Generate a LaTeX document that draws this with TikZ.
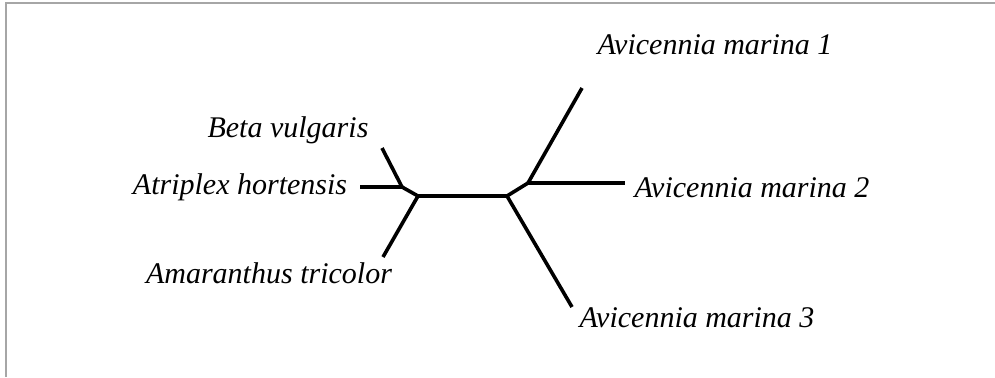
\documentclass[tikz,border=0pt]{standalone}
\usepackage{fontspec}
\setmainfont{Liberation Serif}
\begin{document}
\begin{tikzpicture}[x=0.5pt, y=-0.5pt,
    branch/.style={line width=1.8pt, line cap=butt, line join=round},
    taxon/.style={font=\fontsize{15}{18}\selectfont\itshape, inner sep=0pt}]
                    \useasboundingbox (0,0) rectangle (995,377);
                    \draw[gray!70, line width=1pt] (6,377) -- (6,3) -- (995,3);

                    % inner nodes
                    \coordinate (jl) at (418,196);
                    \coordinate (jl2) at (402,187);
                    \coordinate (jr) at (507,196);
                    \coordinate (jr2) at (528,183);

                    % leaf ends
                    \coordinate (beta) at (382,148);
                    \coordinate (atri) at (360,187);
                    \coordinate (amar) at (383,257);
                    \coordinate (avi1) at (582,88);
                    \coordinate (avi2) at (625,183);
                    \coordinate (avi3) at (572,307);

                    \draw[branch] (jl) -- (jr);
                    \draw[branch] (jl) -- (jl2);
                    \draw[branch] (jl2) -- (beta);
                    \draw[branch] (jl2) -- (atri);
                    \draw[branch] (jl) -- (amar);
                    \draw[branch] (jr) -- (jr2);
                    \draw[branch] (jr2) -- (avi1);
                    \draw[branch] (jr2) -- (avi2);
                    \draw[branch] (jr) -- (avi3);

                    \node[taxon] (lbeta) at (288,130) {Beta vulgaris};
                    \node[taxon] (latri) at (240,187) {Atriplex hortensis};
                    \node[taxon] (lamar) at (269,273) {Amaranthus tricolor};
                    \node[taxon] (lavi1) at (715,45) {Avicennia marina 1};
                    \node[taxon] (lavi2) at (752,188) {Avicennia marina 2};
                    \node[taxon] (lavi3) at (697,318) {Avicennia marina 3};
                \end{tikzpicture}
\end{document}
